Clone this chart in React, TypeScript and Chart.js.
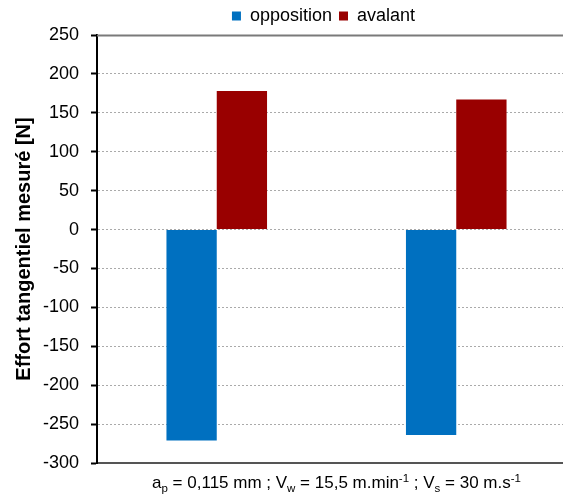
import React, { useEffect, useRef } from 'react';
import { Chart, registerables } from 'chart.js';
Chart.register(...registerables);

const categories = ['', ''];
const seriesNames = ['opposition', 'avalant'];
const opposition = [-271, -264];
const avalant = [178, 167];
const seriesColors = ['#0070C0', '#990000'];
const yMin = -300;
const yMax = 250;
const yStep = 50;
const yTitle = 'Effort tangentiel mesuré [N]';
const xTitleParts = [
  { t: 'a', m: 'n' }, { t: 'p', m: 'sub' }, { t: ' = 0,115 mm ; V', m: 'n' }, { t: 'w', m: 'sub' },
  { t: ' = 15,5 m.min', m: 'n' }, { t: '-1', m: 'sup' }, { t: ' ; V', m: 'n' }, { t: 's', m: 'sub' },
  { t: ' = 30 m.s', m: 'n' }, { t: '-1', m: 'sup' },
];

const FONT = "'Liberation Sans', Arial, sans-serif";

const decorPlugin = {
  id: 'decor',
  afterDraw(chart: any) {
    const ctx = chart.ctx;
    const area = chart.chartArea;
    // top border line of the plot area
    const yTop = Math.round(area.top) + 0.5;
    ctx.save();
    ctx.setLineDash([]);
    ctx.globalAlpha = 1;
    ctx.strokeStyle = '#7a7a7a';
    ctx.lineWidth = 2;
    ctx.beginPath();
    ctx.moveTo(area.left, yTop);
    ctx.lineTo(area.left + 600, yTop);
    ctx.stroke();
    ctx.restore();

    // rich x-axis title
    const big = 17;
    const small = 11.5;
    ctx.save();
    ctx.fillStyle = '#000';
    ctx.textBaseline = 'alphabetic';
    ctx.textAlign = 'left';
    let total = 0;
    const widths = xTitleParts.map((p) => {
      ctx.font = `${p.m === 'n' ? big : small}px ${FONT}`;
      const w = ctx.measureText(p.t).width;
      total += w;
      return w;
    });
    let x = (area.left + area.right) / 2 - total / 2;
    const base = area.bottom + 25;
    xTitleParts.forEach((p, i) => {
      ctx.font = `${p.m === 'n' ? big : small}px ${FONT}`;
      const dy = p.m === 'sub' ? 4 : p.m === 'sup' ? -6 : 0;
      ctx.fillText(p.t, x, base + dy);
      x += widths[i];
    });
    ctx.restore();
  },
};

const legendShiftPlugin = {
  id: 'legendShift',
  afterLayout(chart: any) {
    const lg = chart.legend;
    if (lg) {
      lg.left -= 13;
      lg.right -= 13;
    }
  },
};

export default function App() {
  const ref = useRef<HTMLCanvasElement | null>(null);
  useEffect(() => {
    document.body.style.margin = '0';
    document.body.style.overflow = 'hidden';
    const chart = new Chart(ref.current as HTMLCanvasElement, {
      type: 'bar',
      data: {
        labels: categories,
        datasets: [
          { label: seriesNames[0], data: opposition, backgroundColor: seriesColors[0], categoryPercentage: 0.42, barPercentage: 1 },
          { label: seriesNames[1], data: avalant, backgroundColor: seriesColors[1], categoryPercentage: 0.42, barPercentage: 1 },
        ],
      },
      options: {
        animation: false,
        responsive: true,
        maintainAspectRatio: false,
        layout: { padding: 0 },
        plugins: {
          legend: {
            display: true,
            position: 'top',
            fullSize: false,
            labels: {
              boxWidth: 9,
              boxHeight: 9,
              padding: 7,
              color: '#000',
              font: { family: FONT, size: 18 },
            },
          },
          tooltip: { enabled: false },
        },
        scales: {
          x: {
            grid: { display: false },
            ticks: { display: false },
            border: { display: true, color: '#555', width: 2 },
            afterFit(scale: any) { scale.height = 32; },
          },
          y: {
            min: yMin,
            max: yMax,
            ticks: {
              stepSize: yStep,
              padding: 12,
              color: '#000',
              font: { family: FONT, size: 18 },
            },
            grid: {
              color: '#aaa',
              lineWidth: 1,
              tickColor: '#000',
              tickWidth: 2,
              tickLength: 6,
              tickBorderDash: [],
            },
            border: {
              display: true,
              color: '#000',
              width: 2,
              dash: [2, 2],
            },
            title: {
              display: true,
              text: yTitle,
              color: '#000',
              padding: { top: 12, bottom: 0 },
              font: { family: FONT, size: 20, weight: 'bold' },
            },
            afterFit(scale: any) { scale.width = 97; },
          },
        },
      },
      plugins: [decorPlugin, legendShiftPlugin],
    } as any);
    return () => chart.destroy();
  }, []);
  return (
    <div style={{ width: 563, height: 495, overflow: 'hidden', position: 'relative' }}>
      <div style={{ width: 576, height: 495, position: 'absolute', left: 0, top: 0 }}>
        <canvas ref={ref} />
      </div>
    </div>
  );
}
